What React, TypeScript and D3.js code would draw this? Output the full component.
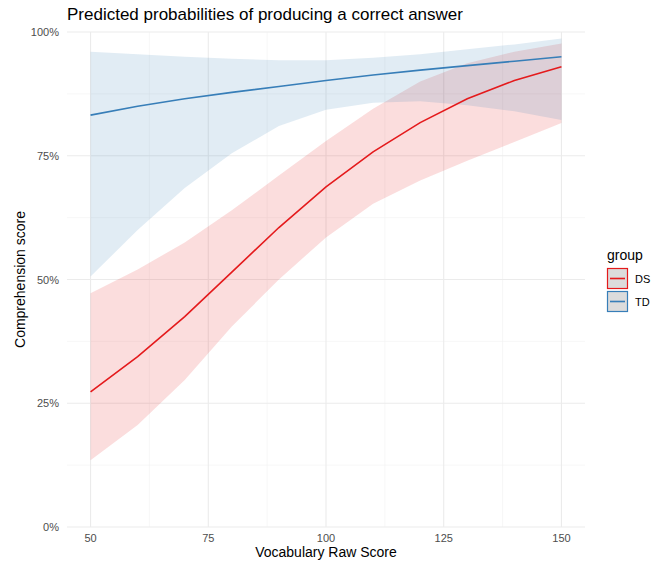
import React from 'react';
import * as d3 from 'd3';

// vocabulary raw score grid (x)
const vocab = [50, 60, 70, 80, 90, 100, 110, 120, 130, 140, 150];

// DS group: predicted probability and 95% band
const dsFit = [0.273, 0.344, 0.425, 0.515, 0.605, 0.687, 0.758, 0.817, 0.865, 0.902, 0.93];
const dsLow = [0.135, 0.206, 0.297, 0.405, 0.5, 0.585, 0.653, 0.7, 0.74, 0.778, 0.816];
const dsHigh = [0.472, 0.52, 0.575, 0.64, 0.71, 0.78, 0.845, 0.9, 0.937, 0.96, 0.977];

// TD group
const tdFit = [0.832, 0.85, 0.865, 0.878, 0.89, 0.902, 0.913, 0.923, 0.932, 0.941, 0.95];
const tdLow = [0.506, 0.6, 0.685, 0.755, 0.81, 0.843, 0.857, 0.86, 0.852, 0.84, 0.822];
const tdHigh = [0.96, 0.955, 0.95, 0.946, 0.943, 0.943, 0.948, 0.955, 0.965, 0.975, 0.987];

const xTicks = [50, 75, 100, 125, 150];
const xMinor = [62.5, 87.5, 112.5, 137.5];
const yTicks = [0, 0.25, 0.5, 0.75, 1];
const yMinor = [0.125, 0.375, 0.625, 0.875];

const groups = [
  { name: 'DS', color: '#E41A1C', fit: dsFit, low: dsLow, high: dsHigh },
  { name: 'TD', color: '#377EB8', fit: tdFit, low: tdLow, high: tdHigh },
];

const W = 662;
const H = 561;
const margin = { top: 32, right: 77, bottom: 34, left: 67 };
const font = '"Liberation Sans", Arial, sans-serif';

const App: React.FC = () => {
  const innerW = W - margin.left - margin.right;
  const innerH = H - margin.top - margin.bottom;

  const x = d3.scaleLinear().domain([45, 155]).range([0, innerW]);
  const y = d3.scaleLinear().domain([0, 1]).range([innerH, 0]);

  const line = d3
    .line<number>()
    .x((_, i) => x(vocab[i]))
    .y(d => y(d));

  const ribbon = (lo: number[], hi: number[]) =>
    d3
      .area<number>()
      .x((_, i) => x(vocab[i]))
      .y0((_, i) => y(lo[i]))
      .y1((_, i) => y(hi[i]))(vocab) || '';

  const fmt = d3.format('.0%');

  return (
    <svg width={W} height={H} style={{ position: 'absolute', left: 0, top: 0, background: '#fff' }} fontFamily={font}>
      <text x={67} y={20} fontSize={17} fill="#000">
        Predicted probabilities of producing a correct answer
      </text>
      <g transform={`translate(${margin.left},${margin.top})`}>
        {/* minor grid */}
        {xMinor.map(v => (
          <line key={'xm' + v} x1={x(v)} x2={x(v)} y1={0} y2={innerH} stroke="#f2f2f2" strokeWidth={0.6} />
        ))}
        {yMinor.map(v => (
          <line key={'ym' + v} x1={0} x2={innerW} y1={y(v)} y2={y(v)} stroke="#f2f2f2" strokeWidth={0.6} />
        ))}
        {/* major grid */}
        {xTicks.map(v => (
          <line key={'xg' + v} x1={x(v)} x2={x(v)} y1={0} y2={innerH} stroke="#ebebeb" strokeWidth={1.1} />
        ))}
        {yTicks.map(v => (
          <line key={'yg' + v} x1={0} x2={innerW} y1={y(v)} y2={y(v)} stroke="#ebebeb" strokeWidth={1.1} />
        ))}

        {groups.map(g => (
          <path key={'r' + g.name} d={ribbon(g.low, g.high)} fill={g.color} fillOpacity={0.15} stroke="none" />
        ))}
        {groups.map(g => (
          <path key={'l' + g.name} d={line(g.fit) || ''} fill="none" stroke={g.color} strokeWidth={1.6} />
        ))}

        {xTicks.map(v => (
          <text key={'xt' + v} x={x(v)} y={innerH + 15} fontSize={11} fill="#4d4d4d" textAnchor="middle">
            {v}
          </text>
        ))}
        {yTicks.map(v => (
          <text key={'yt' + v} x={-8} y={y(v) + 4} fontSize={11} fill="#4d4d4d" textAnchor="end">
            {fmt(v)}
          </text>
        ))}
      </g>

      <text x={margin.left + innerW / 2} y={557} fontSize={14} textAnchor="middle" fill="#000">
        Vocabulary Raw Score
      </text>
      <text
        transform={`translate(25,${margin.top + innerH / 2}) rotate(-90)`}
        fontSize={14}
        textAnchor="middle"
        fill="#000"
      >
        Comprehension score
      </text>

      <g transform="translate(607,244)">
        <text x={0} y={16} fontSize={14} fill="#000">group</text>
        {groups.map((g, i) => (
          <g key={'lg' + g.name} transform={`translate(0,${24 + i * 23})`}>
            <rect x={0.5} y={0.5} width={20} height={20} fill="#dcdcdc" stroke={g.color} strokeWidth={1.2} />
            <path d="M3,10.5H18" stroke={g.color} strokeWidth={1.6} />
            <text x={28} y={15} fontSize={11} fill="#000">{g.name}</text>
          </g>
        ))}
      </g>
    </svg>
  );
};

export default App;
